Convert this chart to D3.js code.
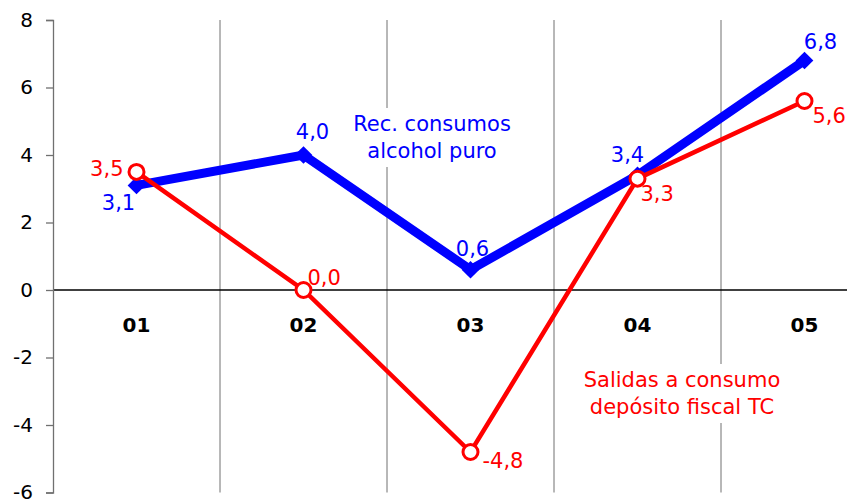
<!DOCTYPE html>
<html>
<head>
<meta charset="utf-8">
<script src="https://cdn.jsdelivr.net/npm/d3@7/dist/d3.min.js"></script>
<style>
  html, body { margin: 0; padding: 0; background: #fff; }
  svg { display: block; font-family: "DejaVu Sans", Verdana, sans-serif; }
</style>
</head>
<body>
<svg id="chart" width="847" height="499"></svg>
<script>
// Quarterly rates of change (%)
const categories = ["01", "02", "03", "04", "05"];
const alcoholPuro = [3.1, 4.0, 0.6, 3.4, 6.8];          // Rec. consumos alcohol puro
const salidasConsumo = [3.5, 0.0, -4.8, 3.3, 5.6];       // Salidas a consumo depósito fiscal TC
const yTicks = [-6, -4, -2, 0, 2, 4, 6, 8];

// Label placement around each point (dx, dy, anchor)
const blueLabelPos = [
  { dx: -18, dy: 25, anchor: "middle" },
  { dx: 9, dy: -16, anchor: "middle" },
  { dx: 2, dy: -14, anchor: "middle" },
  { dx: -10, dy: -13, anchor: "middle" },
  { dx: 16, dy: -12, anchor: "middle" }
];
const redLabelPos = [
  { dx: -13, dy: 4, anchor: "end" },
  { dx: 4, dy: -5, anchor: "start" },
  { dx: 12, dy: 16, anchor: "start" },
  { dx: 3, dy: 22, anchor: "start" },
  { dx: 8, dy: 22, anchor: "start" }
];

const fmt = v => v.toFixed(1).replace(".", ",");

const svg = d3.select("#chart");
const plotLeft = 53, plotRight = 888, plotTop = 20, plotBottom = 492.5;
const labelSize = 21;

const x = d3.scaleBand().domain(categories).range([plotLeft, plotRight]).paddingInner(0).paddingOuter(0);
const cx = c => x(c) + x.bandwidth() / 2;
const y = d3.scaleLinear().domain([-6, 8]).range([plotBottom, plotTop]);

// vertical separators between categories
svg.append("g").selectAll("line")
  .data(categories.slice(1))
  .join("line")
  .attr("x1", d => x(d)).attr("x2", d => x(d))
  .attr("y1", plotTop).attr("y2", plotBottom)
  .attr("stroke", "#707070").attr("stroke-width", 1);

// zero line
svg.append("line")
  .attr("x1", plotLeft).attr("x2", plotRight)
  .attr("y1", y(0)).attr("y2", y(0))
  .attr("stroke", "#000").attr("stroke-width", 1.3);

// y axis
const yAxis = svg.append("g")
  .attr("transform", `translate(${plotLeft},0)`)
  .call(d3.axisLeft(y).tickValues(yTicks).tickSize(7).tickPadding(13).tickFormat(d => d));
yAxis.select(".domain").attr("stroke", "#707070").attr("stroke-width", 1.3);
yAxis.selectAll(".tick line").attr("stroke", "#707070").attr("stroke-width", 1.3);
yAxis.selectAll(".tick text")
  .attr("fill", "#000")
  .style("font-size", "20px")
  .style("font-family", "'DejaVu Sans', Verdana, sans-serif");

// category labels under the zero line
svg.append("g").selectAll("text")
  .data(categories)
  .join("text")
  .attr("x", d => cx(d))
  .attr("y", y(0) + 42)
  .attr("text-anchor", "middle")
  .attr("font-weight", "bold")
  .attr("font-size", 20)
  .attr("fill", "#000")
  .text(d => d);

// series name boxes
function seriesLabel(lines, xc, y0, color) {
  const g = svg.append("g");
  const bg = g.append("rect").attr("fill", "#fff");
  const t = g.append("text")
    .attr("text-anchor", "middle")
    .attr("font-size", labelSize)
    .attr("fill", color);
  lines.forEach((s, i) => {
    t.append("tspan").attr("x", xc).attr("y", y0 + i * 27).text(s);
  });
  const b = t.node().getBBox();
  bg.attr("x", b.x - 6).attr("y", b.y - 4).attr("width", b.width + 12).attr("height", b.height + 8);
}
seriesLabel(["Rec. consumos", "alcohol puro"], 432, 131, "#0000ff");
seriesLabel(["Salidas a consumo", "depósito fiscal TC"], 682, 387, "#ff0000");

const line = d3.line().x((d, i) => cx(categories[i])).y(d => y(d));

// blue series: thick line with diamond markers
svg.append("path")
  .datum(alcoholPuro)
  .attr("d", line)
  .attr("fill", "none")
  .attr("stroke", "#0000ff")
  .attr("stroke-width", 9)
  .attr("stroke-linejoin", "miter");
svg.append("g").selectAll("path")
  .data(alcoholPuro)
  .join("path")
  .attr("transform", (d, i) => `translate(${cx(categories[i])},${y(d)})`)
  .attr("d", d3.symbol().type(d3.symbolDiamond2).size(200))
  .attr("fill", "#0000ff");

// red series: thinner line with hollow circle markers
svg.append("path")
  .datum(salidasConsumo)
  .attr("d", line)
  .attr("fill", "none")
  .attr("stroke", "#ff0000")
  .attr("stroke-width", 4.5);
svg.append("g").selectAll("circle")
  .data(salidasConsumo)
  .join("circle")
  .attr("cx", (d, i) => cx(categories[i]))
  .attr("cy", d => y(d))
  .attr("r", 7.5)
  .attr("fill", "#fff")
  .attr("stroke", "#ff0000")
  .attr("stroke-width", 3);

// value labels
svg.append("g").selectAll("text")
  .data(alcoholPuro)
  .join("text")
  .attr("x", (d, i) => cx(categories[i]) + blueLabelPos[i].dx)
  .attr("y", (d, i) => y(d) + blueLabelPos[i].dy)
  .attr("text-anchor", (d, i) => blueLabelPos[i].anchor)
  .attr("font-size", labelSize)
  .attr("fill", "#0000ff")
  .text(d => fmt(d));
svg.append("g").selectAll("text")
  .data(salidasConsumo)
  .join("text")
  .attr("x", (d, i) => cx(categories[i]) + redLabelPos[i].dx)
  .attr("y", (d, i) => y(d) + redLabelPos[i].dy)
  .attr("text-anchor", (d, i) => redLabelPos[i].anchor)
  .attr("font-size", labelSize)
  .attr("fill", "#ff0000")
  .text(d => fmt(d));
</script>
</body>
</html>
